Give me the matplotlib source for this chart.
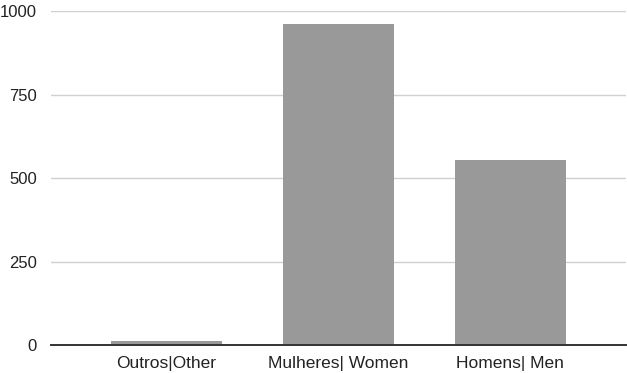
import matplotlib
matplotlib.use("Agg")
import matplotlib.pyplot as plt

categories = ["Outros|Other", "Mulheres| Women", "Homens| Men"]
counts = [12, 962, 555]
yticks = [0, 250, 500, 750, 1000]

plt.rcParams["font.family"] = ["Liberation Sans", "DejaVu Sans"]

fig = plt.figure(figsize=(6.27, 3.73), dpi=100)
ax = fig.add_axes([51 / 627, 1 - 345 / 373, 575 / 627, (345 - 11.5) / 373])

x = list(range(len(categories)))
ax.bar(x, counts, width=0.645, color="#999999", zorder=2)

ax.set_ylim(0, 1000)
ax.set_xlim(-0.669, 2.674)
ax.set_yticks(yticks)
ax.set_xticks(x)
ax.set_xticklabels(categories)

ax.yaxis.grid(True, color="#d0d0d0", linewidth=1.0, zorder=0)
ax.set_axisbelow(True)
for side in ["top", "right", "left"]:
    ax.spines[side].set_visible(False)
ax.spines["bottom"].set_color("#333333")
ax.spines["bottom"].set_linewidth(1.4)
ax.spines["bottom"].set_zorder(3)

ax.tick_params(axis="both", length=0, colors="#222222")
ax.tick_params(axis="y", pad=10, labelsize=12)
ax.tick_params(axis="x", pad=8, labelsize=12.5)

fig.savefig("out.png", dpi=100)
